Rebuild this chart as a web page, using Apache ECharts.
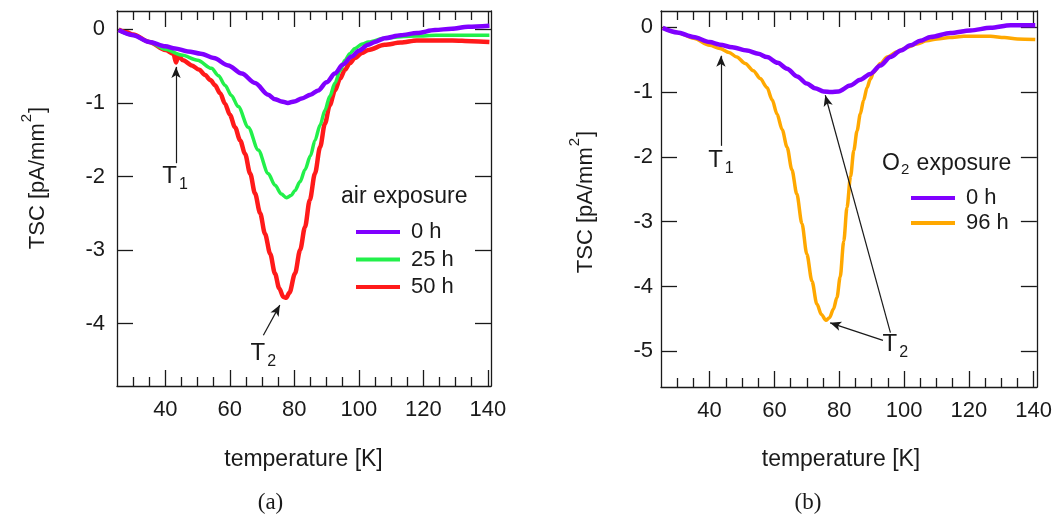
<!DOCTYPE html>
<html>
<head>
<meta charset="utf-8">
<script src="https://cdn.jsdelivr.net/npm/echarts@6/dist/echarts.min.js"></script>
<style>
  html, body { margin: 0; padding: 0; background: #ffffff; }
  #chart { width: 1055px; height: 517px; }
</style>
</head>
<body>
<div id="chart"></div>
<script>
// ---- TSC spectra: temperature [K] and current density [pA/mm^2] ----

// (a) air exposure, 0 h
const airT0 = [25.5, 30, 35, 40, 43, 47, 51, 55, 59.5, 63.7, 67.8, 71.9, 74, 76, 78, 80, 82.3, 85, 87.4, 90, 92.6, 95, 97.8, 100, 102.9, 105, 108, 113, 118, 123.6, 128.8, 133.9, 140.5];
const air0  = [-0.01, -0.08, -0.17, -0.23, -0.26, -0.30, -0.33, -0.39, -0.49, -0.60, -0.73, -0.89, -0.95, -0.98, -1.00, -0.98, -0.94, -0.89, -0.83, -0.72, -0.60, -0.48, -0.37, -0.29, -0.21, -0.17, -0.12, -0.08, -0.05, -0.01, 0.01, 0.035, 0.05];

// (a) air exposure, 25 h
const airT25 = [25.5, 30, 35, 40, 45, 50, 54.3, 56.5, 58.5, 60.5, 62.6, 65.7, 68.8, 71.9, 74, 76, 77.5, 79, 80.2, 81.8, 83.3, 85, 86.4, 88, 89.5, 91, 92.6, 94.2, 95.7, 97.2, 98.8, 101, 103, 108, 113, 118, 124, 130, 135, 140.5];
const air25  = [-0.01, -0.08, -0.17, -0.27, -0.35, -0.42, -0.53, -0.63, -0.76, -0.90, -1.05, -1.33, -1.64, -1.96, -2.12, -2.24, -2.29, -2.26, -2.19, -2.07, -1.91, -1.72, -1.51, -1.30, -1.10, -0.91, -0.73, -0.56, -0.42, -0.33, -0.26, -0.20, -0.17, -0.12, -0.10, -0.09, -0.08, -0.08, -0.08, -0.08];

// (a) air exposure, 50 h
const airT50 = [25.5, 28, 30, 35, 40, 42.5, 43.3, 44, 45.5, 48.2, 50.5, 52.3, 54, 55.4, 57, 58.5, 60, 61.6, 63.2, 64.7, 66.3, 67.8, 69.4, 70.9, 72.5, 74, 75.3, 76.6, 77.5, 78.5, 80.2, 81.8, 83.3, 84.8, 86.4, 88, 89.5, 91, 92.6, 94.2, 95.7, 97.2, 98.8, 101, 103, 108, 113, 118, 124, 129, 135, 140.5];
const air50  = [0.00, -0.04, -0.07, -0.17, -0.28, -0.33, -0.45, -0.36, -0.42, -0.49, -0.55, -0.62, -0.69, -0.76, -0.87, -1.01, -1.16, -1.33, -1.51, -1.69, -1.96, -2.23, -2.50, -2.78, -3.05, -3.32, -3.52, -3.64, -3.65, -3.58, -3.32, -3.00, -2.69, -2.32, -1.96, -1.60, -1.28, -1.03, -0.83, -0.67, -0.55, -0.46, -0.39, -0.32, -0.28, -0.21, -0.18, -0.15, -0.15, -0.15, -0.16, -0.17];

// (b) O2 exposure, 0 h
const o2T0 = [25.5, 30, 35, 40, 43.2, 47, 51.5, 55, 57.7, 61, 63.9, 67, 70, 72.5, 75.2, 77.5, 79.8, 83.4, 86.5, 89.6, 92.7, 95.8, 99, 102, 105, 108.2, 114.3, 120.5, 126.7, 132.9, 140.5];
const o2v0 = [-0.01, -0.08, -0.15, -0.23, -0.27, -0.31, -0.36, -0.41, -0.46, -0.55, -0.64, -0.76, -0.87, -0.94, -0.99, -1.00, -0.99, -0.90, -0.81, -0.72, -0.59, -0.46, -0.36, -0.28, -0.21, -0.15, -0.09, -0.05, -0.01, 0.03, 0.03];

// (b) O2 exposure, 96 h
const o2T96 = [25.5, 30, 35, 40, 43.2, 46, 48.4, 51, 53.5, 55.6, 57.7, 59.3, 60.8, 62.4, 63.9, 65.4, 66.9, 68.5, 70, 71.6, 73.1, 74.5, 75.9, 77, 78.2, 79.3, 80.3, 81.4, 82.4, 83.5, 84.5, 85.5, 86.5, 87.5, 88.6, 89.6, 90.6, 92.7, 94.8, 97.9, 101, 104, 107, 110.2, 114, 118.5, 122, 126.7, 131, 135, 140.5];
const o2v96 = [-0.01, -0.08, -0.17, -0.28, -0.33, -0.39, -0.46, -0.56, -0.67, -0.79, -0.93, -1.12, -1.34, -1.58, -1.85, -2.20, -2.57, -3.03, -3.50, -3.92, -4.27, -4.43, -4.52, -4.48, -4.35, -4.17, -3.85, -3.30, -2.78, -2.30, -1.90, -1.60, -1.34, -1.13, -0.93, -0.80, -0.70, -0.56, -0.46, -0.38, -0.31, -0.26, -0.21, -0.18, -0.16, -0.14, -0.14, -0.14, -0.16, -0.18, -0.19];

// tick values
const xMajor = [40, 60, 80, 100, 120, 140];
const xMinor = [30, 35, 45, 50, 55, 65, 70, 75, 85, 90, 95, 105, 110, 115, 125, 130, 135];
const yTicksA = [-4, -3, -2, -1, 0];
const yTicksB = [-5, -4, -3, -2, -1, 0];

const seriesNames = { h0: '0 h', h25: '25 h', h50: '50 h', h96: '96 h' };

const INK = '#1a1a1a';
const FONT = '"Liberation Sans", Arial, Helvetica, sans-serif';
const SERIF = '"Liberation Serif", "Times New Roman", serif';
const C_PURPLE = '#8000ff';
const C_GREEN = '#22f04a';
const C_RED = '#ff1a1a';
const C_ORANGE = '#ffa800';

const zip = (xs, ys) => xs.map((x, i) => [x, ys[i]]);

function xAxis(gridIndex, position, ticks, len, withLine, withLabel) {
  return {
    type: 'value', gridIndex, position, min: 25, max: 141,
    splitLine: { show: false },
    axisLine: { show: withLine, onZero: false, lineStyle: { color: INK, width: 1.3 } },
    axisTick: { show: true, inside: true, length: len, customValues: ticks, lineStyle: { color: INK, width: 1.3 } },
    axisLabel: { show: withLabel, customValues: ticks, margin: 13, fontSize: 22, fontFamily: FONT, color: INK }
  };
}

function yAxis(gridIndex, position, min, max, ticks, withLabel, margin) {
  return {
    type: 'value', gridIndex, position, min, max,
    splitLine: { show: false },
    axisLine: { show: true, onZero: false, lineStyle: { color: INK, width: 1.3 } },
    axisTick: { show: true, inside: true, length: 16, customValues: ticks, lineStyle: { color: INK, width: 1.3 } },
    axisLabel: { show: withLabel, customValues: ticks, margin, fontSize: 22, fontFamily: FONT, color: INK }
  };
}

const labelRich = {
  t: { fontSize: 24, lineHeight: 24, fontFamily: FONT, color: INK, verticalAlign: 'top' },
  s: { fontSize: 16, lineHeight: 16, fontFamily: FONT, color: INK, verticalAlign: 'top', padding: [12, 0, 0, 2] }
};

function annotations(arrows, labels) {
  return {
    markLine: {
      silent: true, animation: false,
      symbol: ['none', 'arrow'], symbolSize: [7, 11],
      lineStyle: { color: INK, width: 1.2, type: 'solid' },
      label: { show: false },
      emphasis: { disabled: true },
      data: arrows.map(a => [{ coord: a[0] }, { coord: a[1] }])
    },
    markPoint: {
      silent: true, animation: false,
      symbol: 'rect', symbolSize: 1,
      itemStyle: { color: 'rgba(0,0,0,0)' },
      label: { show: true, position: 'inside', rich: labelRich },
      data: labels.map(l => ({ coord: l.at, label: { formatter: '{t|T}{s|' + l.sub + '}' } }))
    }
  };
}

function line(name, data, color, width, xi, yi, extra) {
  return Object.assign({
    type: 'line', name, data, color,
    xAxisIndex: xi, yAxisIndex: yi,
    showSymbol: false, symbol: 'none',
    smooth: 0.3, smoothMonotone: 'x',
    lineStyle: { color, width },
    emphasis: { disabled: true },
    animation: false, z: 3
  }, extra || {});
}

const legendBase = {
  orient: 'vertical', icon: 'rect', itemWidth: 44, itemHeight: 4,
  selectedMode: false,
  textStyle: { fontSize: 22, lineHeight: 22, fontFamily: FONT, color: INK, padding: [0, 0, 0, 6] }
};

const supRich = {
  a: { fontSize: 22, lineHeight: 22, fontFamily: FONT, fill: INK, verticalAlign: 'top', padding: [8, 0, 0, 0] },
  s: { fontSize: 15, lineHeight: 15, fontFamily: FONT, fill: INK, verticalAlign: 'top', padding: [0, 1, 0, 1] }
};
const subRich = {
  a: { fontSize: 23, lineHeight: 23, fontFamily: FONT, fill: INK, verticalAlign: 'top' },
  s: { fontSize: 15, lineHeight: 15, fontFamily: FONT, fill: INK, verticalAlign: 'top', padding: [10, 1, 0, 1] }
};

const chart = echarts.init(document.getElementById('chart'), null, { renderer: 'canvas' });

chart.setOption({
  backgroundColor: '#ffffff',
  animation: false,
  grid: [
    { left: 117, top: 11, width: 374, height: 375 },
    { left: 661, top: 11, width: 376, height: 376 }
  ],
  xAxis: [
    xAxis(0, 'bottom', xMajor, 16, true, true),
    xAxis(0, 'bottom', xMinor, 9, false, false),
    xAxis(0, 'top', xMajor, 16, true, false),
    xAxis(0, 'top', xMinor, 9, false, false),
    xAxis(1, 'bottom', xMajor, 16, true, true),
    xAxis(1, 'bottom', xMinor, 9, false, false),
    xAxis(1, 'top', xMajor, 16, true, false),
    xAxis(1, 'top', xMinor, 9, false, false)
  ],
  yAxis: [
    yAxis(0, 'left', -4.85, 0.25, yTicksA, true, 12),
    yAxis(0, 'right', -4.85, 0.25, yTicksA, false, 8),
    yAxis(1, 'left', -5.55, 0.25, yTicksB, true, 8),
    yAxis(1, 'right', -5.55, 0.25, yTicksB, false, 8)
  ],
  legend: [
    Object.assign({}, legendBase, { data: [seriesNames.h0, seriesNames.h25, seriesNames.h50], left: 351, top: 216, itemGap: 5.5 }),
    Object.assign({}, legendBase, { data: [seriesNames.h0, seriesNames.h96], left: 906, top: 182, itemGap: 3 })
  ],
  series: [
    line(seriesNames.h50, zip(airT50, air50), C_RED, 4.5, 0, 0),
    line(seriesNames.h25, zip(airT25, air25), C_GREEN, 3.5, 0, 0),
    line(seriesNames.h0, zip(airT0, air0), C_PURPLE, 4.5, 0, 0, annotations(
      [
        [[43.3, -1.82], [43.3, -0.51]],
        [[70.4, -4.16], [75.5, -3.75]]
      ],
      [
        { at: [43, -2.0], sub: '1' },
        { at: [70.4, -4.41], sub: '2' }
      ]
    )),
    line(seriesNames.h96, zip(o2T96, o2v96), C_ORANGE, 3.5, 4, 2),
    line(seriesNames.h0, zip(o2T0, o2v0), C_PURPLE, 4.5, 4, 2, annotations(
      [
        [[43.5, -1.83], [43.5, -0.44]],
        [[93.5, -4.83], [77.2, -4.56]],
        [[95.8, -4.71], [75.7, -1.05]]
      ],
      [
        { at: [43.5, -2.06], sub: '1' },
        { at: [97.3, -4.89], sub: '2' }
      ]
    ))
  ],
  graphic: [
    { type: 'text', x: 30, y: 178, rotation: Math.PI / 2,
      style: { text: '{a|TSC [pA/mm}{s|2}{a|]}', rich: supRich, align: 'center', verticalAlign: 'middle' } },
    { type: 'text', x: 578, y: 202, rotation: Math.PI / 2,
      style: { text: '{a|TSC [pA/mm}{s|2}{a|]}', rich: supRich, align: 'center', verticalAlign: 'middle' } },
    { type: 'text', x: 303.5, y: 460,
      style: { text: 'temperature [K]', fontSize: 23, fontFamily: FONT, fill: INK, align: 'center', verticalAlign: 'middle' } },
    { type: 'text', x: 841, y: 460,
      style: { text: 'temperature [K]', fontSize: 23, fontFamily: FONT, fill: INK, align: 'center', verticalAlign: 'middle' } },
    { type: 'text', x: 341, y: 197,
      style: { text: 'air exposure', fontSize: 23, fontFamily: FONT, fill: INK, align: 'left', verticalAlign: 'middle' } },
    { type: 'text', x: 882, y: 164,
      style: { text: '{a|O}{s|2}{a| exposure}', rich: subRich, align: 'left', verticalAlign: 'middle' } },
    { type: 'text', x: 270.5, y: 503,
      style: { text: '(a)', fontSize: 23, fontFamily: SERIF, fill: INK, align: 'center', verticalAlign: 'middle' } },
    { type: 'text', x: 808, y: 503,
      style: { text: '(b)', fontSize: 23, fontFamily: SERIF, fill: INK, align: 'center', verticalAlign: 'middle' } }
  ]
});
</script>
</body>
</html>
